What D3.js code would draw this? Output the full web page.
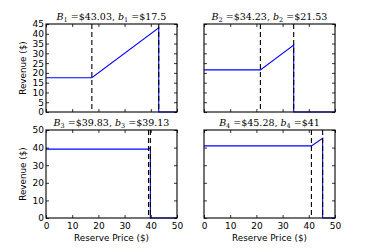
<!DOCTYPE html>
<html>
  <head>
    <meta charset="utf-8">
    <title>Revenue vs reserve price</title>
    <script src="https://cdn.jsdelivr.net/npm/d3@7"></script>
    <style>
      body { margin: 0; background: #fff; }
      svg { display: block; }
      .tick text { font-family: "DejaVu Sans", sans-serif; font-size: 9px; fill: #000; }
      .label { font-family: "DejaVu Sans", sans-serif; font-size: 8.8px; }
      .title { font-family: "DejaVu Serif", serif; font-size: 9.5px; }
    </style>
  </head>
  <body>
    <svg id="chart" width="373" height="249"></svg>
    <script>
      // data: one panel per bidder set
      bigB = [43.03, 34.23, 39.83, 45.28];
      smallB = [17.5, 21.53, 39.13, 41];
      bigLabels = ["$43.03", "$34.23", "$39.83", "$45.28"];
      smallLabels = ["$17.5", "$21.53", "$39.13", "$41"];
      yMax = [45, 45, 50, 50];
      yTicks = [
        [0, 5, 10, 15, 20, 25, 30, 35, 40, 45],
        [0, 5, 10, 15, 20, 25, 30, 35, 40, 45],
        [0, 10, 20, 30, 40, 50],
        [0, 10, 20, 30, 40, 50]
      ];
      xTicks = [0, 10, 20, 30, 40, 50];

      svg = d3.select("#chart");
      cols = [46, 204];
      rows = [24, 130];
      w = 131;
      h = 88;

      bigB.forEach(function(B, i) {
        var col = i % 2, row = Math.floor(i / 2);
        var g = svg.append("g")
          .attr("transform", "translate(" + cols[col] + "," + rows[row] + ")");
        var x = d3.scaleLinear().domain([0, 50]).range([0, w]);
        var y = d3.scaleLinear().domain([0, yMax[i]]).range([h, 0]);
        var b = smallB[i];

        // revenue curve: max(b, r) up to B, then zero
        var pts = [[0, b], [b, b], [B, B], [B, 0], [50, 0]];
        g.append("path")
          .datum(pts)
          .attr("fill", "none")
          .attr("stroke", "#0000ff")
          .attr("stroke-width", 1.1)
          .attr("d", d3.line().x(function(d) { return x(d[0]); }).y(function(d) { return y(d[1]); }));

        [b, B].forEach(function(v) {
          g.append("line")
            .attr("x1", x(v)).attr("x2", x(v))
            .attr("y1", 0).attr("y2", h)
            .attr("stroke", "#000")
            .attr("stroke-width", 1.1)
            .attr("stroke-dasharray", "5,3");
        });

        // axes, ticks pointing inward on all sides
        var showX = row === 1, showY = col === 0;
        var ax = g.append("g").attr("transform", "translate(0," + h + ")")
          .call(d3.axisBottom(x).tickValues(xTicks).tickSize(-3).tickPadding(5)
            .tickFormat(showX ? d3.format("d") : ""));
        var axTop = g.append("g")
          .call(d3.axisTop(x).tickValues(xTicks).tickSize(-3).tickFormat(""));
        var ay = g.append("g")
          .call(d3.axisLeft(y).tickValues(yTicks[i]).tickSize(-3).tickPadding(2)
            .tickFormat(showY ? d3.format("d") : ""));
        var ayR = g.append("g").attr("transform", "translate(" + w + ",0)")
          .call(d3.axisRight(y).tickValues(yTicks[i]).tickSize(-3).tickFormat(""));
        [ax, axTop, ay, ayR].forEach(function(a) {
          a.select(".domain").remove();
          a.selectAll("line").attr("stroke", "#000").attr("stroke-width", 0.8);
        });
        g.append("rect")
          .attr("width", w).attr("height", h)
          .attr("fill", "none").attr("stroke", "#000").attr("stroke-width", 1.1);

        // title with math-style italics
        var t = g.append("text").attr("class", "title")
          .attr("x", w / 2).attr("y", -4).attr("text-anchor", "middle");
        t.append("tspan").attr("font-style", "italic").text("B");
        t.append("tspan").attr("font-size", "6.5px").attr("dy", 2).text(i + 1);
        t.append("tspan").attr("dy", -2).text(" =" + bigLabels[i] + ", ");
        t.append("tspan").attr("font-style", "italic").text("b");
        t.append("tspan").attr("font-size", "6.5px").attr("dy", 2).text(i + 1);
        t.append("tspan").attr("dy", -2).text(" =" + smallLabels[i]);

        if (showY) {
          g.append("text").attr("class", "label")
            .attr("transform", "translate(-20," + (h / 2) + ") rotate(-90)")
            .attr("text-anchor", "middle")
            .text("Revenue ($)");
        }
        if (showX) {
          g.append("text").attr("class", "label")
            .attr("x", w / 2).attr("y", h + 23)
            .attr("text-anchor", "middle")
            .text("Reserve Price ($)");
        }
      });
    </script>
  </body>
</html>
